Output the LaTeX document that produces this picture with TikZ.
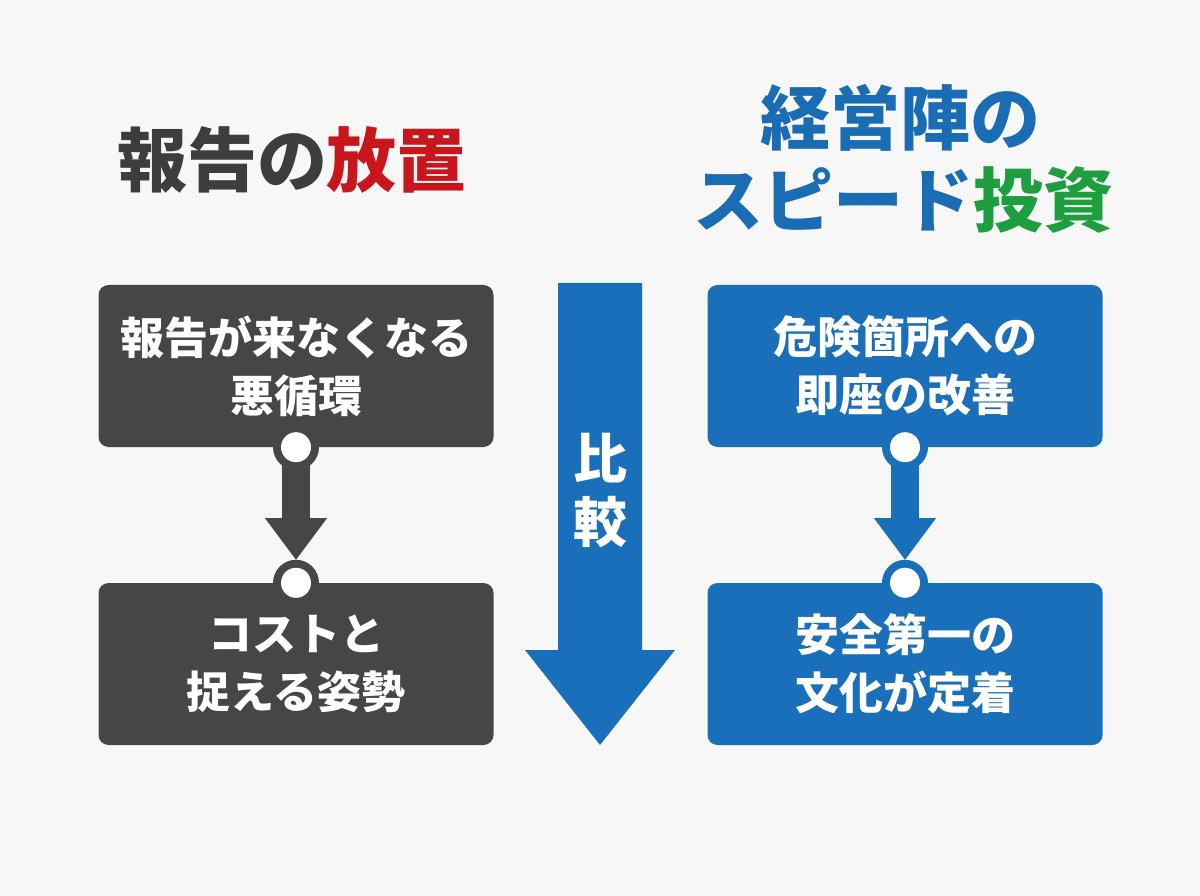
\documentclass[tikz,border=0pt]{standalone}
\usepackage{fontspec}
\setmainfont{Noto Sans CJK JP}
\usetikzlibrary{calc}
\definecolor{bg}{HTML}{F7F7F7}
\definecolor{dgray}{HTML}{464646}
\definecolor{tgray}{HTML}{3D3D3D}
\definecolor{tred}{HTML}{C8161D}
\definecolor{bblue}{HTML}{1A6FBA}
\definecolor{tblue}{HTML}{1A6DB5}
\definecolor{tgreen}{HTML}{1E9E3E}
\tikzset{
  box/.style={fill=#1, rounded corners=10pt, minimum width=395pt, minimum height=162pt,
    text=white, align=center, inner sep=0pt, font=\bfseries\fontsize{44}{58}\selectfont},
  ttl/.style={font=\bfseries\fontsize{70}{82}\selectfont, inner sep=0pt},
}
\newcommand{\linkarrow}[3]{%
  \fill[#1] (#2.south) circle (23pt);
  \fill[#1] (#3.north) circle (23pt);
  \fill[#1] ($(#2.south)+(-14,0)$) rectangle ($(#2.south)+(14,72)$);
  \fill[#1] ($(#2.south)+(-31,71)$) -- ($(#2.south)+(31,71)$) -- ($(#3.north)+(0,-23)$) -- cycle;
  \fill[white] (#2.south) circle (15pt);
  \fill[white] (#3.north) circle (15pt);
}
\begin{document}
\begin{tikzpicture}[x=1pt,y=-1pt]
\fill[bg] (0,0) rectangle (1200,896);
\useasboundingbox (0,0) rectangle (1200,896);
% titles
\node[ttl] (lt) at (292,160) {\textcolor{tgray}{報告の}\textcolor{tred}{放置}};
\node[ttl, text=tblue] (rt1) at (900,118) {経営陣の};
\node[ttl] (rt2) at (903,200) {\textcolor{tblue}{スピード}\textcolor{tgreen}{投資}};
% boxes
\node[box=dgray] (l1) at (296,366) {報告が来なくなる\\悪循環};
\node[box=dgray] (l2) at (296,664) {コストと\\捉える姿勢};
\node[box=bblue] (r1) at (905,366) {危険箇所への\\即座の改善};
\node[box=bblue] (r2) at (905,664) {安全第一の\\文化が定着};
% connectors
\linkarrow{dgray}{l1}{l2}
\linkarrow{bblue}{r1}{r2}
% middle arrow
\fill[bblue] (558,283) -- (642,283) -- (642,650) -- (675,650) -- (600,745) -- (525,650) -- (558,650) -- cycle;
\node[font=\bfseries\fontsize{54}{64}\selectfont, text=white, align=center, inner sep=0pt] (cmp) at (600,490) {比\\較};
\end{tikzpicture}
\end{document}
